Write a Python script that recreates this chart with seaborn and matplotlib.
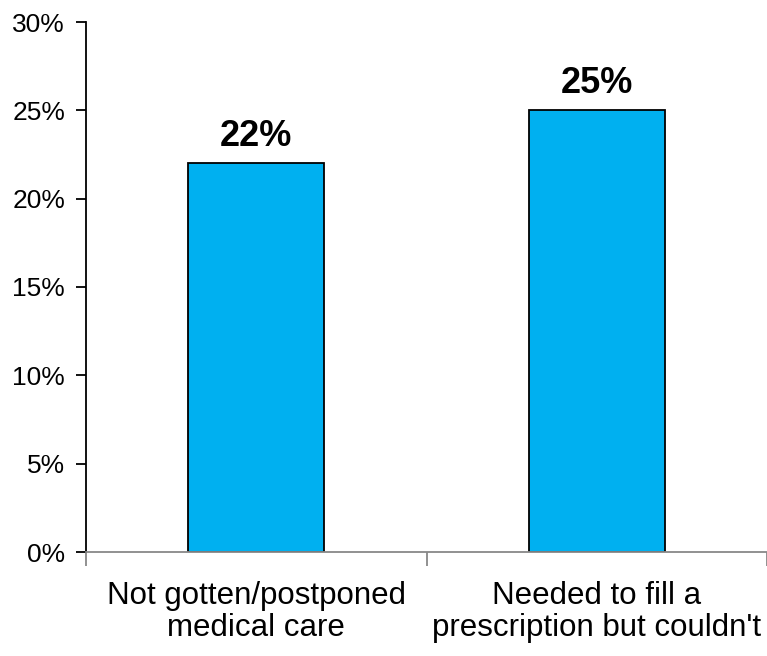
import matplotlib
matplotlib.use("Agg")
import matplotlib.pyplot as plt
import seaborn as sns
import pandas as pd
from matplotlib.ticker import FuncFormatter, FixedLocator

categories = ["Not gotten/postponed\nmedical care", "Needed to fill a\nprescription but couldn't"]
values = [22, 25]
value_labels = ["22%", "25%"]
yticks = [0, 5, 10, 15, 20, 25, 30]

sns.set_theme(style="white")
plt.rcParams['font.family'] = ['Liberation Sans', 'DejaVu Sans']
plt.rcParams['text.color'] = 'black'
plt.rcParams['xtick.color'] = 'black'
plt.rcParams['ytick.color'] = 'black'
plt.rcParams['axes.labelcolor'] = 'black'

fig = plt.figure(figsize=(7.67, 6.56), dpi=100)
ax = fig.add_axes([86/767, 1 - 552/656, 1 - 86/767, (552 - 22)/656])

df = pd.DataFrame({"cat": categories, "val": values})
sns.barplot(data=df, x="cat", y="val", color="#00B0F0", edgecolor="black",
            linewidth=1.3, width=0.4, saturation=1, ax=ax)

ax.set_xlim(-0.5, 1.5)
ax.set_ylim(0, 30)
ax.set_yticks(yticks)
ax.yaxis.set_major_formatter(FuncFormatter(lambda v, p: f"{int(v)}%"))
ax.set_xlabel("")
ax.set_ylabel("")

for s in ["top", "right"]:
    ax.spines[s].set_visible(False)
ax.spines["left"].set_color("black")
ax.spines["left"].set_linewidth(1.3)
ax.spines["bottom"].set_color("#888888")
ax.spines["bottom"].set_linewidth(1.3)

ax.tick_params(axis="y", which="major", direction="out", length=7, width=1.3,
               color="black", labelcolor="black", labelsize=19, pad=8, left=True)
ax.tick_params(axis="x", which="major", length=0, labelsize=22.5, pad=21,
               labelcolor="black")
for lbl in ax.get_xticklabels():
    lbl.set_linespacing(1.1)
ax.xaxis.set_minor_locator(FixedLocator([-0.5, 0.5, 1.5]))
ax.tick_params(axis="x", which="minor", direction="out", length=10, width=1.3,
               color="#888888", bottom=True)

for cont in ax.containers:
    ax.bar_label(cont, labels=value_labels, padding=7, fontsize=26,
                 fontweight="bold", color="black")

fig.savefig("out.png", dpi=100)
